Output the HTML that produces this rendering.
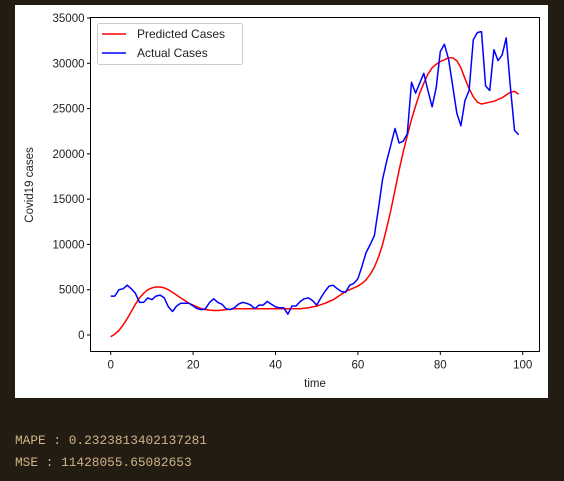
<!DOCTYPE html>
<html><head><meta charset="utf-8"><style>
body{margin:0;width:564px;height:481px;background:#231c12;overflow:hidden;position:relative;font-family:"Liberation Sans",sans-serif}
#fig{position:absolute;left:15px;top:5px;width:533px;height:393px;background:#fff}
.out{position:absolute;left:15px;font-family:"Liberation Mono",monospace;font-size:12.8px;color:#cfb38a;white-space:pre}
</style></head><body>
<div id="fig"></div>
<svg id="chart" width="564" height="400" style="position:absolute;left:0;top:0"></svg>
<div class="out" style="top:433px">MAPE : 0.2323813402137281</div>
<div class="out" style="top:455px">MSE : 11428055.65082653</div>
<script>
const xTicks=[0,20,40,60,80,100];
const yTicks=[0,5000,10000,15000,20000,25000,30000,35000];
const actual=[4300,4300,5000,5100,5500,5100,4600,3600,3600,4100,3900,4300,4400,4100,3100,2600,3200,3500,3500,3500,3200,2900,2800,2900,3600,4000,3600,3400,2900,2800,3000,3400,3600,3500,3300,2900,3300,3300,3700,3400,3100,3000,3000,2300,3200,3200,3700,4000,4100,3800,3300,4100,4800,5400,5500,5100,4800,4700,5500,5700,6200,7600,9100,10000,11000,14000,17200,19200,21000,22800,21200,21400,22200,27900,26700,27800,28900,27000,25200,27300,31300,32100,30500,27500,24500,23100,25900,27000,32600,33400,33500,27500,27000,31500,30300,30900,32800,27500,22600,22100];
const predicted=[-200,100,500,1100,1800,2600,3400,4100,4600,5000,5200,5300,5300,5200,5000,4700,4400,4100,3800,3500,3300,3100,2900,2800,2750,2700,2700,2750,2800,2850,2900,2900,2900,2900,2900,2900,2900,2900,2900,2900,2900,2900,2900,2900,2900,2900,2900,2950,3000,3100,3200,3350,3500,3700,3900,4200,4500,4800,5000,5200,5400,5700,6100,6700,7500,8600,10000,11800,13800,16000,18200,20200,22000,23800,25300,26700,27800,28800,29500,29900,30200,30400,30600,30600,30300,29500,28300,27200,26300,25700,25500,25600,25700,25800,26000,26200,26500,26800,26900,26600];
const svg=document.getElementById('chart');const NS='http://www.w3.org/2000/svg';
const L=90.5,R=539.5,T=17.5,B=351.5;
const xs=v=>110.7+v*4.12;
const ys=v=>335-v*0.009057;
function el(t,a,p){const e=document.createElementNS(NS,t);for(const k in a)e.setAttribute(k,a[k]);(p||svg).appendChild(e);return e;}
function line(vals,color,name){const d=vals.map((v,i)=>(i?'L':'M')+xs(i).toFixed(1)+','+ys(v).toFixed(1)).join('');
const p=el('path',{d:d,fill:'none',stroke:color,'stroke-width':1.5,'stroke-linejoin':'round'});

}
line(predicted,'#ff0000','predicted-cases-line');
line(actual,'#0000ff','actual-cases-line');
const fr=el('rect',{x:L,y:T,width:R-L,height:B-T,fill:'none',stroke:'#000','stroke-width':1});


xTicks.forEach(v=>{const x=xs(v);el('line',{x1:x,x2:x,y1:B,y2:B+3.5,stroke:'#000'});
const t=el('text',{x:x,y:B+17,'text-anchor':'middle','font-size':'11.5',fill:'#222'});t.textContent=v;

});
yTicks.forEach(v=>{const y=ys(v);el('line',{x1:L-3.5,x2:L,y1:y,y2:y,stroke:'#000'});
const t=el('text',{x:L-6,y:y+4,'text-anchor':'end','font-size':'11.5',fill:'#222'});t.textContent=v;

});
const xl=el('text',{x:315,y:387,'text-anchor':'middle','font-size':'11.5',fill:'#222'});xl.textContent='time';


const yl=el('text',{x:0,y:0,'text-anchor':'middle','font-size':'11.5',fill:'#222',transform:'translate(33,185) rotate(-90)'});yl.textContent='Covid19 cases';


const lg=el('g',{});


el('rect',{x:97.5,y:23.5,width:145,height:41,rx:2,fill:'#fff',stroke:'#ccc'},lg);
[['Predicted Cases','#ff0000',34],['Actual Cases','#0000ff',53]].forEach(([n,c,y])=>{
el('line',{x1:102,x2:126,y1:y,y2:y,stroke:c,'stroke-width':1.5},lg);
const t=el('text',{x:137,y:y+4,'font-size':'12',fill:'#222'},lg);t.textContent=n;

});
</script>
</body></html>
